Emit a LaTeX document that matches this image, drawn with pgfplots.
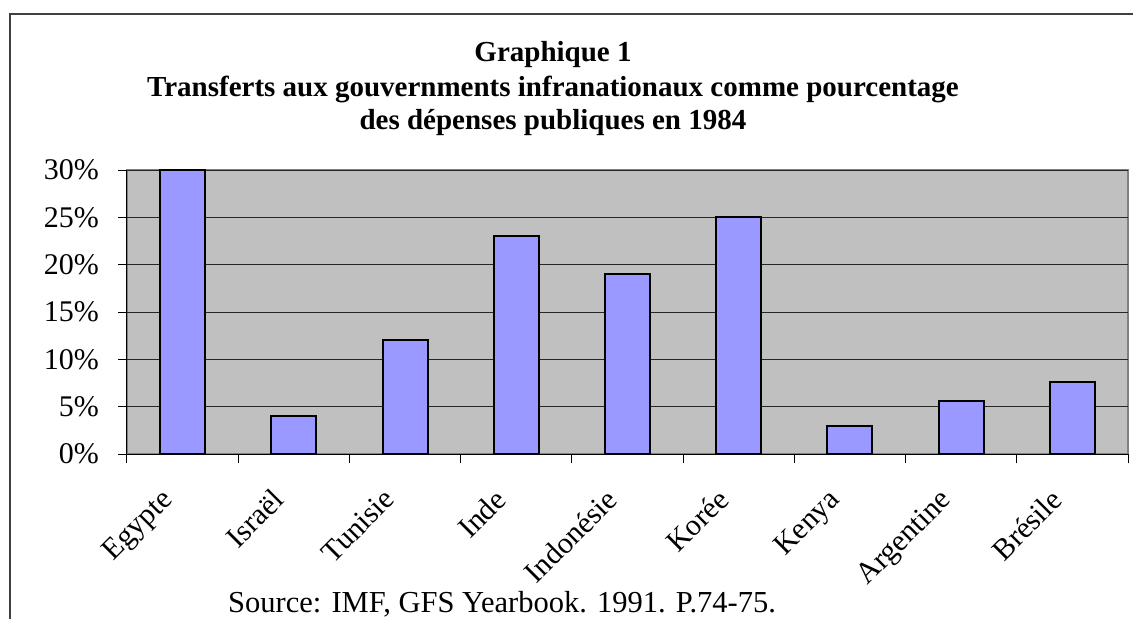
\documentclass[border=0pt]{standalone}
\usepackage{fontspec}
\setmainfont{Liberation Serif}
\usepackage{pgfplots}
\pgfplotsset{compat=1.18}
\definecolor{barblue}{HTML}{9999FF}
\definecolor{plotbg}{HTML}{C0C0C0}
\definecolor{bordergray}{HTML}{808080}
\begin{document}
\begin{tikzpicture}[x=1pt,y=1pt]
\begin{axis}[
  name=ax,
  scale only axis, width=1001pt, height=284pt,
  xmin=-0.5, xmax=8.5, ymin=0, ymax=30,
  axis x line*=bottom, axis y line*=left,
  axis line style={black, line width=1pt},
  axis background/.style={fill=plotbg, draw=bordergray, line width=1.5pt},
  ybar, bar width=45pt, bar shift=0pt,
  ytick={0,5,...,30},
  ymajorgrids, major grid style={black!85, line width=0.8pt},
  yticklabel={\pgfmathprintnumber{\tick}\%},
  /pgf/number format/assume math mode=true,
  xtick={0,...,8},
  xticklabels={Egypte,Israël,Tunisie,Inde,Indonésie,Korée,Kenya,Argentine,Brésile},
  minor xtick={-0.5,0.5,...,8.5},
  major x tick style={draw=none},
  tick align=outside, major tick length=9pt, minor tick length=9pt,
  tick style={black, line width=1pt},
  yticklabel style={anchor=east, inner sep=0pt, xshift=-19pt, font=\fontsize{30}{34}\selectfont},
  xticklabel style={xshift=-23pt, yshift=-24pt, rotate=45, anchor=north east, inner sep=0pt, font=\fontsize{30}{34}\selectfont},
  clip=false,
]
\addplot[fill=barblue, draw=black, line width=2pt] coordinates {
  (0,30) (1,4) (2,12) (3,23) (4,19) (5,25) (6,3) (7,5.6) (8,7.6)
};
\coordinate (O) at (rel axis cs:0,0);
\end{axis}
\begin{scope}[shift={(O)}, xshift=-127pt, yshift=-165pt]
\pgfresetboundingbox
\useasboundingbox (0,0) rectangle (1133,619);
\draw[line width=1.5pt, color=black!75] (10,0) -- (10,605) -- (1133,605);
\node[anchor=base, font=\fontsize{29}{34}\selectfont\bfseries] at (553,557) {Graphique 1};
\node[anchor=base, font=\fontsize{29}{34}\selectfont\bfseries] at (553,522) {Transferts aux gouvernments infranationaux comme pourcentage};
\node[anchor=base, font=\fontsize{29}{34}\selectfont\bfseries] at (553,489) {des dépenses publiques en 1984};
\node[anchor=base west, font=\fontsize{30.5}{34}\selectfont, inner sep=0pt] at (228,7) {Source: IMF, GFS Yearbook. 1991. P.74-75.};
\end{scope}
\end{tikzpicture}
\end{document}
